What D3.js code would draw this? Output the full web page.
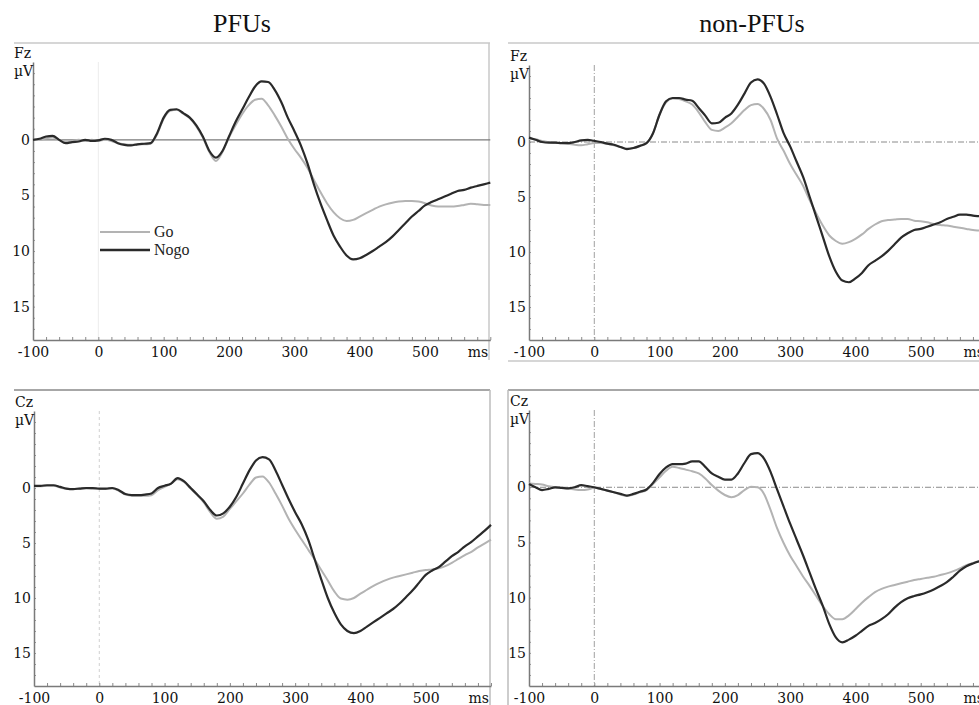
<!DOCTYPE html>
<html>
<head>
<meta charset="utf-8">
<script src="https://cdn.jsdelivr.net/npm/d3@7"></script>
<style>
  html, body { margin: 0; padding: 0; background: #fff; }
  svg { display: block; }
</style>
</head>
<body>
<svg id="chart" width="979" height="705"></svg>
<script>
// time grid in ms, one sample every 10 ms
const times = d3.range(-100, 601, 10);

const xTickLabels = [-100, 0, 100, 200, 300, 400, 500];
const yTickLabels = [0, 5, 10, 15];
const groupTitles = ['PFUs', 'non-PFUs'];
const conditions = ['Go', 'Nogo'];

// amplitudes in µV (positive plotted downward)
const fzPfuGo = [0.0, 0.0, -0.15, -0.2, 0.0, 0.15, 0.1, 0.0, 0.1, 0.0,
  0.1, 0.0, 0.1, 0.3, 0.4, 0.45, 0.4, 0.4, 0.35, -0.5,
  -1.9, -2.6, -2.7, -2.35, -1.95, -1.2, -0.2, 1.1, 1.9, 1.1,
  -0.2, -1.3, -2.3, -3.1, -3.6, -3.7, -3.1, -2.2, -1.2, -0.1,
  0.8, 1.6, 2.5, 3.6, 4.7, 5.7, 6.5, 7.05, 7.3, 7.2,
  6.9, 6.6, 6.3, 6.0, 5.8, 5.65, 5.55, 5.5, 5.5, 5.55,
  5.7, 5.9, 6.0, 6.0, 6.0, 5.95, 5.85, 5.75, 5.8, 5.85, 5.85];
const fzPfuNogo = [0.0, -0.1, -0.3, -0.35, 0.0, 0.3, 0.2, 0.15, 0.0, 0.1,
  0.05, -0.1, 0.0, 0.3, 0.45, 0.5, 0.4, 0.35, 0.3, -0.6,
  -2.0, -2.7, -2.75, -2.4, -2.0, -1.3, -0.3, 1.0, 1.6, 1.0,
  -0.3, -1.6, -2.7, -3.8, -4.8, -5.25, -5.2, -4.5, -3.4, -2.0,
  -0.8, 0.5, 2.1, 4.0, 5.7, 7.2, 8.6, 9.6, 10.4, 10.75,
  10.65, 10.35, 10.0, 9.6, 9.2, 8.7, 8.1, 7.5, 6.9, 6.4,
  5.9, 5.6, 5.35, 5.1, 4.85, 4.6, 4.5, 4.3, 4.15, 4.0, 3.85];

const fzNonGo = [-0.3, -0.25, -0.1, 0.0, 0.1, 0.1, 0.15, 0.25, 0.3, 0.2,
  0.1, 0.1, 0.15, 0.3, 0.45, 0.6, 0.55, 0.35, 0.1, -0.8,
  -2.5, -3.6, -3.95, -3.9, -3.7, -3.4, -2.7, -1.8, -1.1, -1.0,
  -1.3, -1.7, -2.3, -2.9, -3.35, -3.45, -3.0, -2.0, -0.3, 0.8,
  2.0, 3.0, 4.0, 5.3, 6.5, 7.6, 8.5, 9.0, 9.25, 9.1,
  8.8, 8.4, 7.9, 7.5, 7.2, 7.1, 7.05, 7.0, 7.0, 7.15,
  7.2, 7.3, 7.45, 7.55, 7.6, 7.7, 7.8, 7.9, 8.0, 8.05, 8.1];
const fzNonNogo = [-0.4, -0.2, 0.0, 0.05, 0.05, 0.1, 0.1, 0.0, -0.15, -0.2,
  -0.1, 0.0, 0.15, 0.25, 0.45, 0.65, 0.55, 0.35, 0.1, -0.8,
  -2.5, -3.7, -4.0, -4.0, -3.85, -3.75, -3.1, -2.4, -1.7, -1.75,
  -2.2, -2.6, -3.4, -4.4, -5.4, -5.7, -5.3, -4.1, -2.5, -0.8,
  0.4, 1.8, 3.2, 5.0, 6.8, 8.6, 10.4, 11.8, 12.6, 12.75,
  12.4, 11.9, 11.2, 10.8, 10.4, 9.9, 9.3, 8.7, 8.3, 8.0,
  7.9, 7.7, 7.5, 7.3, 7.0, 6.8, 6.6, 6.6, 6.7, 6.75, 6.8];

const czPfuGo = [-0.15, -0.15, -0.2, -0.2, -0.05, 0.1, 0.1, 0.05, 0.05, 0.1,
  0.1, 0.1, 0.05, 0.25, 0.6, 0.7, 0.7, 0.7, 0.65, 0.2,
  -0.1, -0.4, -0.8, -0.55, 0.05, 0.65, 1.3, 2.2, 2.8, 2.6,
  1.9, 1.2, 0.5, -0.3, -0.95, -1.05, -0.5, 0.5, 1.6, 2.8,
  3.8, 4.7, 5.6, 6.5, 7.45, 8.4, 9.4, 10.05, 10.15, 10.0,
  9.6, 9.25, 8.9, 8.6, 8.35, 8.15, 8.0, 7.85, 7.7, 7.55,
  7.45, 7.4, 7.3, 7.1, 6.8, 6.45, 6.1, 5.8, 5.4, 5.05, 4.7];
const czPfuNogo = [-0.2, -0.2, -0.25, -0.25, -0.1, 0.05, 0.1, 0.05, 0.0, 0.0,
  0.05, 0.05, 0.0, 0.2, 0.55, 0.65, 0.65, 0.6, 0.5, 0.0,
  -0.2, -0.4, -0.9, -0.6, 0.0, 0.6, 1.2, 2.0, 2.5, 2.3,
  1.7, 0.8, -0.4, -1.6, -2.5, -2.8, -2.6, -1.6, -0.3, 1.0,
  2.2, 3.3, 4.7, 6.5, 8.3, 10.0, 11.35, 12.4, 13.0, 13.2,
  13.0, 12.6, 12.2, 11.8, 11.4, 11.0, 10.5, 9.9, 9.3, 8.6,
  7.9, 7.5, 7.2, 6.7, 6.2, 5.8, 5.3, 4.9, 4.4, 3.9, 3.35];

const czNonGo = [-0.35, -0.3, -0.25, -0.1, 0.0, 0.05, 0.1, 0.2, 0.25, 0.2,
  0.05, 0.15, 0.3, 0.45, 0.65, 0.8, 0.65, 0.45, 0.25, -0.3,
  -0.9, -1.5, -1.85, -1.75, -1.6, -1.45, -1.25, -0.8, -0.2, 0.3,
  0.7, 0.9, 0.7, 0.25, -0.05, 0.0, 0.6, 2.05, 3.7, 5.05,
  6.2, 7.15, 8.1, 8.95, 9.85, 10.75, 11.5, 11.95, 11.95, 11.6,
  11.05, 10.45, 9.95, 9.5, 9.2, 9.0, 8.85, 8.7, 8.55, 8.4,
  8.3, 8.2, 8.1, 7.95, 7.8, 7.6, 7.35, 7.05, 6.85, 6.7, 6.6];
const czNonNogo = [-0.3, 0.0, 0.25, 0.15, 0.0, 0.05, 0.1, 0.0, -0.2, -0.1,
  0.0, 0.15, 0.3, 0.45, 0.6, 0.75, 0.6, 0.4, 0.2, -0.4,
  -1.2, -1.8, -2.1, -2.1, -2.15, -2.35, -2.35, -1.85, -1.25, -0.95,
  -0.7, -0.7, -1.25, -2.2, -3.0, -3.1, -2.6, -1.4, 0.2, 1.75,
  3.3, 4.75, 6.2, 7.75, 9.3, 10.75, 12.4, 13.6, 14.05, 13.8,
  13.45, 13.0, 12.55, 12.3, 11.95, 11.5, 10.9, 10.4, 10.05, 9.85,
  9.7, 9.5, 9.25, 8.95, 8.6, 8.1, 7.55, 7.15, 6.9, 6.7, 6.6];

// panel layout (pixel boxes) and per-panel guide styles
const panels = [
  { site: 'Fz', go: fzPfuGo, nogo: fzPfuNogo, x0: 33, x1: 490.3, yTop: 62, yBot: 340,
    zeroH: 'solid', zeroV: 'faint', legend: true },
  { site: 'Fz', go: fzNonGo, nogo: fzNonNogo, x0: 529, x1: 986, yTop: 65, yBot: 340,
    zeroH: 'dashdot', zeroV: 'dashdot' },
  { site: 'Cz', go: czPfuGo, nogo: czPfuNogo, x0: 34, x1: 491, yTop: 411, yBot: 686,
    zeroH: null, zeroV: 'dashed' },
  { site: 'Cz', go: czNonGo, nogo: czNonNogo, x0: 529, x1: 986, yTop: 410, yBot: 686,
    zeroH: 'dashdot', zeroV: 'dashdot' },
];

const svg = d3.select('#chart');
const tickFont = 'DejaVu Serif, serif';
const plain = (d) => String(d);

// frame lines around the panels
const frames = [
  [14, 43, 490, 43, '#c8c8c8'], [489, 43, 489, 360, '#c8c8c8'],
  [508, 43, 979, 43, '#c8c8c8'], [508, 361, 979, 361, '#c8c8c8'],
  [14, 390, 490, 390, '#8a8a8a'], [490, 390, 490, 705, '#bdbdbd'],
  [508, 390, 979, 390, '#8a8a8a'], [508, 390, 508, 705, '#bdbdbd'],
];
svg.append('g').selectAll('line').data(frames).join('line')
  .attr('x1', (d) => d[0]).attr('y1', (d) => d[1])
  .attr('x2', (d) => d[2]).attr('y2', (d) => d[3])
  .attr('stroke', (d) => d[4]).attr('stroke-width', 1.5);

// group titles
svg.append('g').selectAll('text').data(groupTitles).join('text')
  .attr('x', (d, i) => (i === 0 ? 242 : 752))
  .attr('y', 32)
  .attr('text-anchor', 'middle')
  .attr('font-family', 'Liberation Serif, Times New Roman, serif')
  .attr('font-size', 26)
  .attr('fill', '#111')
  .text((d) => d);

const dashes = { dashdot: '6,2,1,2', dashed: '3,3' };

panels.forEach((p) => {
  const x = d3.scaleLinear().domain([-100, 600]).range([p.x0, p.x1]);
  const y = d3.scaleLinear().domain([-7, 18]).range([p.yTop, p.yBot]);
  const g = svg.append('g');

  // zero guides
  if (p.zeroV) {
    g.append('line')
      .attr('x1', x(0)).attr('x2', x(0))
      .attr('y1', y(-7)).attr('y2', y(18))
      .attr('stroke', p.zeroV === 'faint' ? '#ececec' : (p.zeroV === 'dashed' ? '#d0d0d0' : '#a0a0a0'))
      .attr('stroke-width', 1)
      .attr('stroke-dasharray', dashes[p.zeroV] || null);
  }
  if (p.zeroH) {
    g.append('line')
      .attr('x1', x(-100)).attr('x2', x(600))
      .attr('y1', y(0)).attr('y2', y(0))
      .attr('stroke', p.zeroH === 'solid' ? '#7a7a7a' : '#8a8a8a')
      .attr('stroke-width', p.zeroH === 'solid' ? 1.3 : 1)
      .attr('stroke-dasharray', dashes[p.zeroH] || null);
  }

  // minor ticks
  g.append('g')
    .attr('transform', `translate(0,${y(18)})`)
    .call(d3.axisTop(x).tickValues(d3.range(-100, 601, 20)).tickSize(3).tickFormat(''))
    .call((a) => a.select('.domain').remove())
    .call((a) => a.selectAll('line').attr('stroke', '#8a8a8a'));
  g.append('g')
    .attr('transform', `translate(${x(-100)},0)`)
    .call(d3.axisRight(y).tickValues(d3.range(-6, 18, 1)).tickSize(2).tickFormat(''))
    .call((a) => a.select('.domain').remove())
    .call((a) => a.selectAll('line').attr('stroke', '#9a9a9a'));

  // axes with labels
  const xAxis = g.append('g')
    .attr('transform', `translate(0,${y(18)})`)
    .call(d3.axisBottom(x).tickValues(xTickLabels).tickSize(0).tickPadding(7).tickFormat(plain));
  xAxis.select('.domain').attr('stroke', '#7a7a7a').attr('stroke-width', 1.5);
  xAxis.selectAll('text').attr('font-family', tickFont).attr('font-size', 14).attr('fill', '#111');
  xAxis.append('text')
    .attr('x', x(600) - 2).attr('y', 7).attr('dy', '0.71em')
    .attr('text-anchor', 'end')
    .attr('font-family', tickFont).attr('font-size', 14).attr('fill', '#111')
    .text('ms');

  const yAxis = g.append('g')
    .attr('transform', `translate(${x(-100)},0)`)
    .call(d3.axisLeft(y).tickValues(yTickLabels).tickSize(0).tickPadding(3).tickFormat(plain));
  yAxis.select('.domain').attr('stroke', '#7a7a7a').attr('stroke-width', 1.5);
  yAxis.selectAll('text').attr('font-family', tickFont).attr('font-size', 14).attr('fill', '#111');

  g.append('text')
    .attr('x', x(-100) - 19).attr('y', y(-7) - 4)
    .attr('font-family', tickFont).attr('font-size', 14).attr('fill', '#111')
    .text(p.site);
  g.append('text')
    .attr('x', x(-100) - 19).attr('y', y(-7) + 14)
    .attr('font-family', tickFont).attr('font-size', 14).attr('fill', '#111')
    .text('µV');

  // waveforms
  const line = d3.line()
    .x((d, i) => x(times[i]))
    .y((d) => y(d))
    .curve(d3.curveMonotoneX);
  g.append('path').datum(p.go)
    .attr('d', line).attr('fill', 'none')
    .attr('stroke', '#b3b3b3').attr('stroke-width', 2);
  g.append('path').datum(p.nogo)
    .attr('d', line).attr('fill', 'none')
    .attr('stroke', '#2a2a2a').attr('stroke-width', 2.2);

  if (p.legend) {
    const lg = g.append('g').attr('transform', 'translate(100,232)');
    lg.selectAll('line').data(conditions).join('line')
      .attr('x1', 0).attr('x2', 50)
      .attr('y1', (d, i) => i * 18).attr('y2', (d, i) => i * 18)
      .attr('stroke', (d) => (d === 'Go' ? '#b3b3b3' : '#2a2a2a'))
      .attr('stroke-width', (d) => (d === 'Go' ? 2 : 2.6));
    lg.selectAll('text').data(conditions).join('text')
      .attr('x', 54).attr('y', (d, i) => i * 18 + 5)
      .attr('font-family', 'Liberation Serif, Times New Roman, serif')
      .attr('font-size', 16).attr('fill', '#222')
      .text((d) => d);
  }
});
</script>
</body>
</html>
